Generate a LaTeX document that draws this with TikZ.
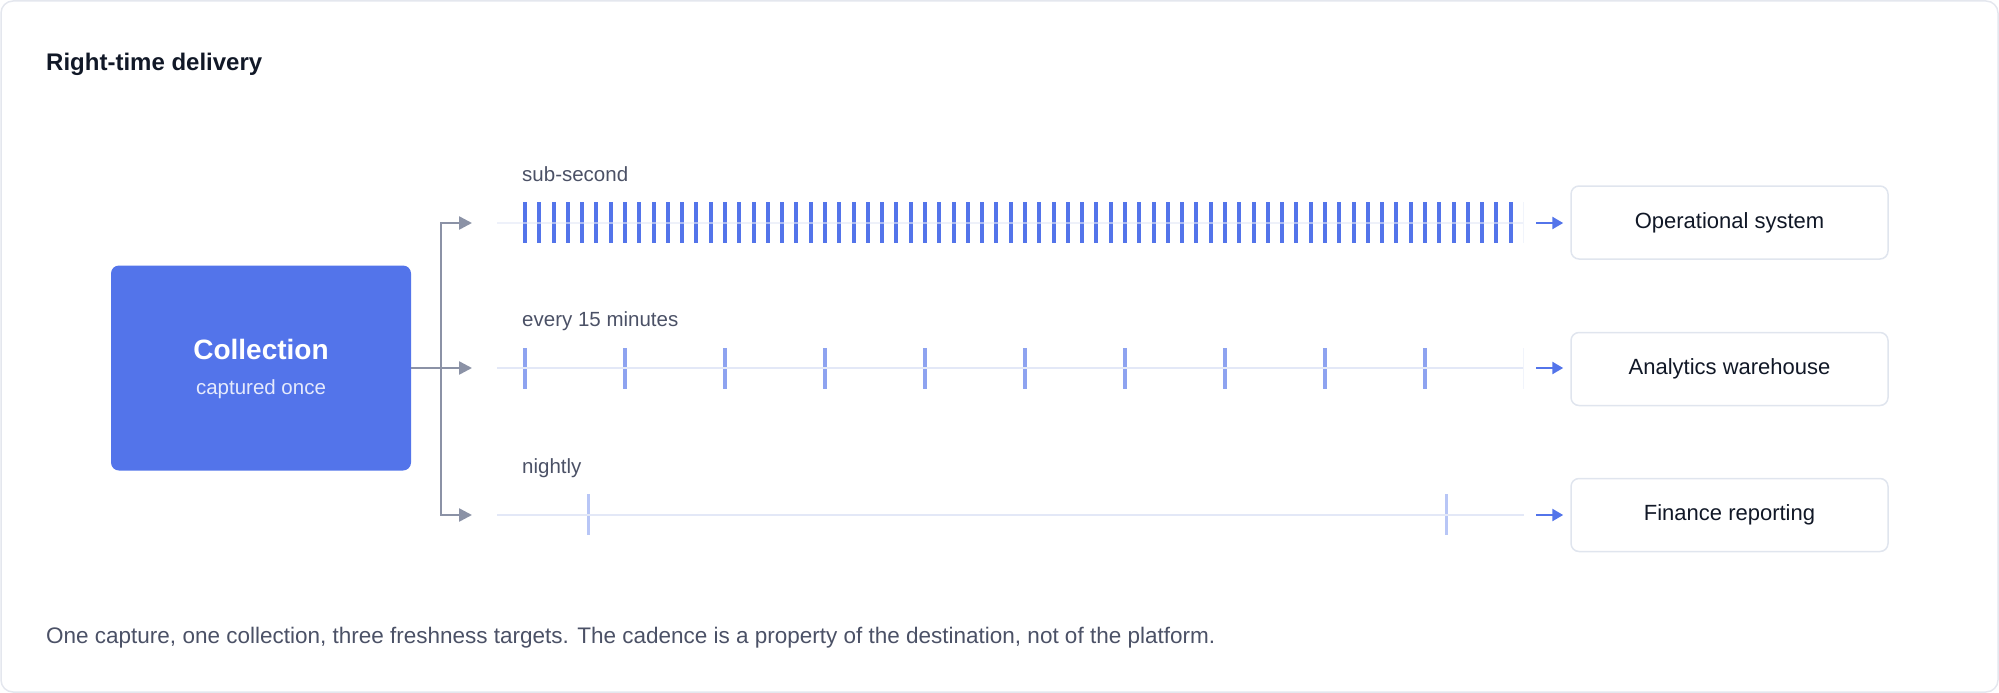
\documentclass[tikz,border=0pt]{standalone}
\usepackage{fontspec}
\setmainfont{Liberation Sans}
\usetikzlibrary{arrows.meta}
\definecolor{collblue}{HTML}{5374EA}
\definecolor{tickmid}{HTML}{8EA3F0}
\definecolor{ticknight}{HTML}{B8C6F6}
\definecolor{trackline}{HTML}{E3E8F7}
\definecolor{feedgray}{HTML}{8B92A6}
\definecolor{labelgray}{HTML}{4B5166}
\definecolor{titleink}{HTML}{111827}
\definecolor{destline}{HTML}{E0E5EE}
\definecolor{frameline}{HTML}{E4E7EE}
\tikzset{
  collbox/.style={fill=collblue, rounded corners=8pt, minimum width=300pt, minimum height=205pt, inner sep=0pt},
  destbox/.style={draw=destline, line width=1.5pt, fill=white, rounded corners=8pt, minimum width=317pt, minimum height=73pt, text=titleink, font=\fontsize{22}{26}\selectfont},
  ratelabel/.style={anchor=west, inner sep=0pt, text=labelgray, font=\fontsize{20.5}{24}\selectfont},
  feed/.style={feedgray, line width=2.5pt, -{Triangle[length=13pt,width=13pt]}},
  outfeed/.style={collblue, line width=2.5pt, -{Triangle[length=11pt,width=12pt]}, shorten >=7pt},
  track/.style={trackline, line width=2pt},
}
\begin{document}
\begin{tikzpicture}[x=1pt,y=-1pt]
\useasboundingbox (0,0) rectangle (1999,693);
\draw[frameline, line width=1.5pt, rounded corners=12pt] (1,1) rectangle (1998,692);

\node[anchor=west, inner sep=0pt, text=titleink, font=\fontsize{24}{28}\selectfont\bfseries] (title) at (46,64) {Right-time delivery};

% source
\node[collbox] (coll) at (261,368) {};
\node[text=white, font=\fontsize{28}{32}\selectfont\bfseries] (colltitle) at (261,349) {Collection};
\node[text=white!85!collblue, font=\fontsize{20.5}{24}\selectfont] (collsub) at (261,389) {captured once};

% fan out
\coordinate (split) at (441,368);
\coordinate (in1) at (472,223);
\coordinate (in2) at (472,368);
\coordinate (in3) at (472,515);
\draw[feed] (coll.east) -- (in2);
\draw[feed] (split) |- (in1);
\draw[feed] (split) |- (in3);

% tracks
\coordinate (s1) at (497,223);
\coordinate (e1) at (1524,223);
\coordinate (s2) at (497,368);
\coordinate (e2) at (1524,368);
\coordinate (s3) at (497,515);
\coordinate (e3) at (1524,515);

\node[ratelabel] (fastlabel) at (522,174) {sub-second};
\node[ratelabel] (midlabel) at (522,321) {every 15 minutes};
\node[ratelabel] (nightlabel) at (522,468) {nightly};

\foreach \i in {0,...,69}
  \draw[collblue, line width=4pt] ({525+\i*14.286},202) -- ++(0,41);
\foreach \i in {0,...,9}
  \draw[tickmid, line width=3.5pt] ({525+\i*100},348) -- ++(0,41);
\draw[ticknight, line width=3pt] (588,494) -- ++(0,41);
\draw[ticknight, line width=3pt] (1446,494) -- ++(0,41);

\draw[track, opacity=.6] (s1) -- (e1);
\draw[track] (s2) -- (e2);
\draw[track] (s3) -- (e3);
\draw[trackline!50, line width=1pt] (1523,202) -- (1523,243);
\draw[trackline!50, line width=1pt] (1523,348) -- (1523,389);

% destinations
\node[destbox] (ops) at (1729.5,222.5) {Operational system};
\node[destbox] (ana) at (1729.5,369) {Analytics warehouse};
\node[destbox] (fin) at (1729.5,515) {Finance reporting};
\coordinate (o1) at (1536,223);
\coordinate (o2) at (1536,368);
\coordinate (o3) at (1536,515);
\draw[outfeed] (o1) -- (ops.west |- o1);
\draw[outfeed] (o2) -- (ana.west |- o2);
\draw[outfeed] (o3) -- (fin.west |- o3);

\node[anchor=west, inner sep=0pt, text=labelgray, font=\fontsize{22.5}{26}\selectfont] (note) at (46,638) {One capture, one collection, three freshness targets. The cadence is a property of the destination, not of the platform.};
\end{tikzpicture}
\end{document}
